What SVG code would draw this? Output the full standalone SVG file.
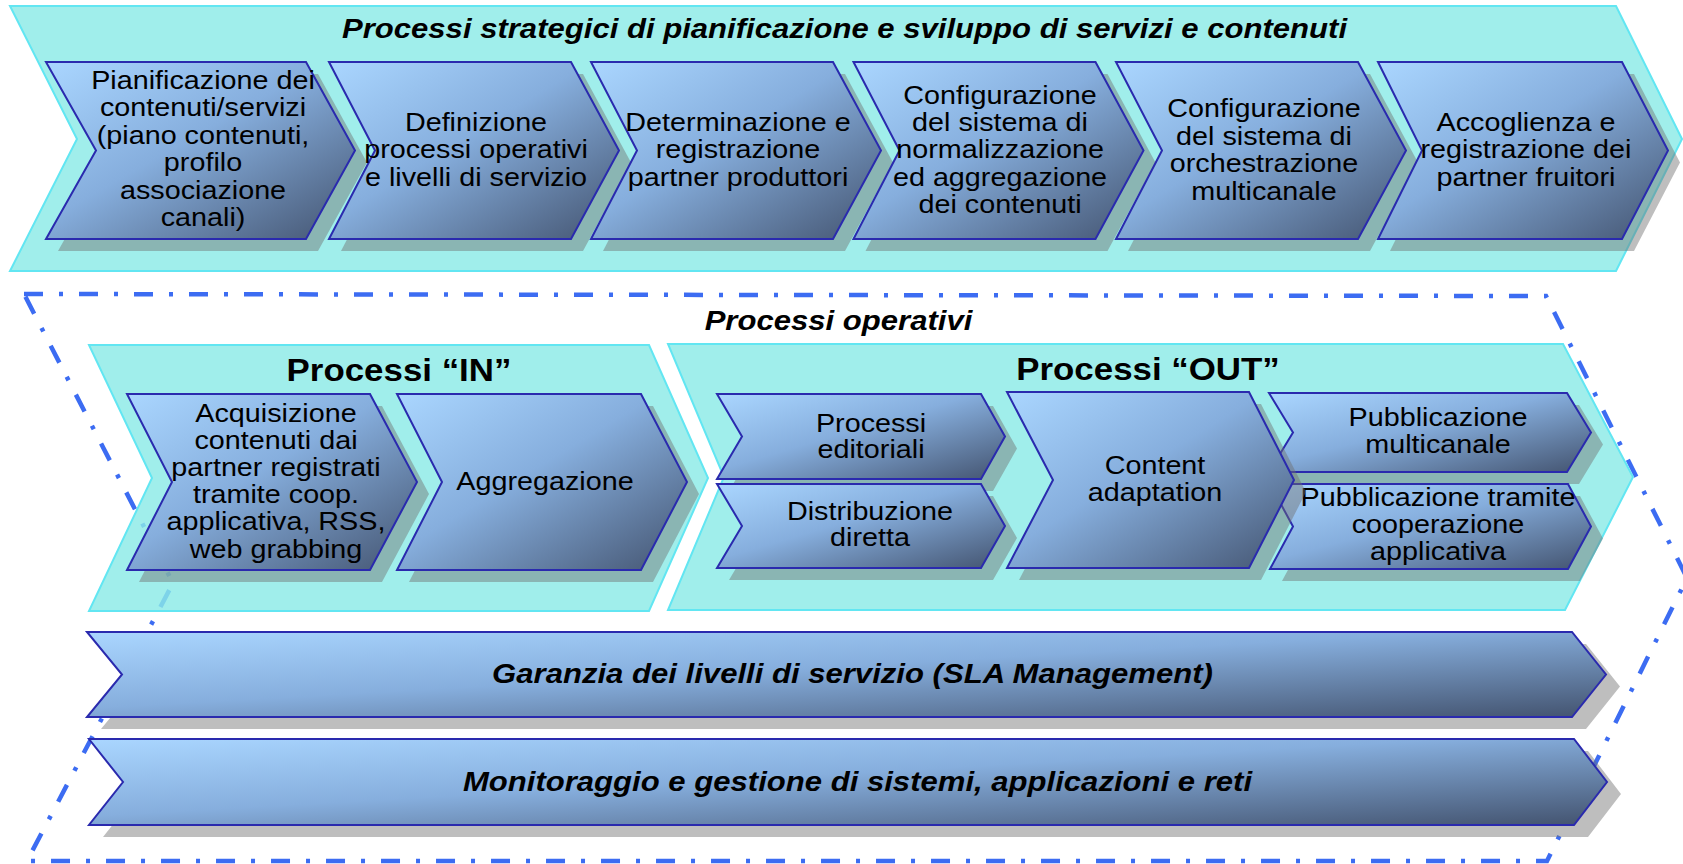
<svg xmlns="http://www.w3.org/2000/svg" width="1683" height="864" viewBox="0 0 1683 864">
<defs>
<linearGradient id="gc" x1="0" y1="0" x2="1" y2="1">
<stop offset="0" stop-color="#AAD6FF"/>
<stop offset="0.45" stop-color="#86AEDD"/>
<stop offset="1" stop-color="#43536F"/>
</linearGradient>
<style>
.band{fill:#8BEAE6;fill-opacity:0.82;stroke:#62E6F2;stroke-width:2}
.ch{fill:url(#gc);stroke:#2A2AAE;stroke-width:2}
.sh{fill:#6E6E6E;fill-opacity:0.45}
.t{font-family:"Liberation Sans",Arial,sans-serif;font-size:25px;fill:#000;text-anchor:middle}
.h{font-family:"Liberation Sans",Arial,sans-serif;font-size:28px;font-weight:bold;font-style:italic;fill:#000;text-anchor:middle}
.b{font-family:"Liberation Sans",Arial,sans-serif;font-size:32px;font-weight:bold;fill:#000;text-anchor:middle}
.dash{fill:none;stroke:#3C6CF2;stroke-width:4.5;stroke-dasharray:19 16 4 16}
</style>
</defs>
<rect width="1683" height="864" fill="#FFFFFF"/>

<g id="strategic-band">
<polygon class="band" points="10,6 1616,6 1682,139 1616,271 10,271 77,139"/>
<text class="h" transform="translate(844.5 0) scale(1.11 1)" x="0" y="38.5">Processi strategici di pianificazione e sviluppo di servizi e contenuti</text>
</g>

<g id="connectors">
<polygon id="operative-boundary" class="dash" points="24,294 1546,296 1687,578 1547,861 27,861 173,583"/>
</g>

<g id="ch1">
<polygon class="sh" transform="translate(12 12)" points="46,62 306,62 355,150.5 306,239 46,239 96,150.5"/>
<polygon class="ch" points="46,62 306,62 355,150.5 306,239 46,239 96,150.5"/>
<text class="t" transform="translate(203 0) scale(1.15 1)"><tspan x="0" y="89">Pianificazione dei</tspan><tspan x="0" y="116.5">contenuti/servizi</tspan><tspan x="0" y="144">(piano contenuti,</tspan><tspan x="0" y="171.5">profilo</tspan><tspan x="0" y="199">associazione</tspan><tspan x="0" y="226.5">canali)</tspan></text>
</g>
<g id="ch2">
<polygon class="sh" transform="translate(12 12)" points="329,62 571,62 619,150.5 571,239 329,239 375,150.5"/>
<polygon class="ch" points="329,62 571,62 619,150.5 571,239 329,239 375,150.5"/>
<text class="t" transform="translate(476 0) scale(1.15 1)"><tspan x="0" y="131">Definizione</tspan><tspan x="0" y="158.5">processi operativi</tspan><tspan x="0" y="186">e livelli di servizio</tspan></text>
</g>
<g id="ch3">
<polygon class="sh" transform="translate(12 12)" points="591,62 833,62 881,150.5 833,239 591,239 637,150.5"/>
<polygon class="ch" points="591,62 833,62 881,150.5 833,239 591,239 637,150.5"/>
<text class="t" transform="translate(738 0) scale(1.15 1)"><tspan x="0" y="131">Determinazione e</tspan><tspan x="0" y="158.5">registrazione</tspan><tspan x="0" y="186">partner produttori</tspan></text>
</g>
<g id="ch4">
<polygon class="sh" transform="translate(12 12)" points="853.5,62 1095.5,62 1143.5,150.5 1095.5,239 853.5,239 899.5,150.5"/>
<polygon class="ch" points="853.5,62 1095.5,62 1143.5,150.5 1095.5,239 853.5,239 899.5,150.5"/>
<text class="t" transform="translate(1000 0) scale(1.15 1)"><tspan x="0" y="104">Configurazione</tspan><tspan x="0" y="131">del sistema di</tspan><tspan x="0" y="158.5">normalizzazione</tspan><tspan x="0" y="186">ed aggregazione</tspan><tspan x="0" y="213.5">dei contenuti</tspan></text>
</g>
<g id="ch5">
<polygon class="sh" transform="translate(12 12)" points="1116,62 1358,62 1406,150.5 1358,239 1116,239 1162,150.5"/>
<polygon class="ch" points="1116,62 1358,62 1406,150.5 1358,239 1116,239 1162,150.5"/>
<text class="t" transform="translate(1264 0) scale(1.15 1)"><tspan x="0" y="117.5">Configurazione</tspan><tspan x="0" y="145">del sistema di</tspan><tspan x="0" y="172.5">orchestrazione</tspan><tspan x="0" y="200">multicanale</tspan></text>
</g>
<g id="ch6">
<polygon class="sh" transform="translate(12 12)" points="1378,62 1622,62 1668,150.5 1622,239 1378,239 1422,150.5"/>
<polygon class="ch" points="1378,62 1622,62 1668,150.5 1622,239 1378,239 1422,150.5"/>
<text class="t" transform="translate(1526 0) scale(1.15 1)"><tspan x="0" y="131">Accoglienza e</tspan><tspan x="0" y="158.5">registrazione dei</tspan><tspan x="0" y="186">partner fruitori</tspan></text>
</g>

<g id="operativi-label">
<text class="h" transform="translate(838.5 0) scale(1.11 1)" x="0" y="330">Processi operativi</text>
</g>

<g id="processi-in">
<polygon class="band" points="89,345 649,345 708,478 649,611 89,611 152,478"/>
<text class="b" transform="translate(399 0) scale(1.09 1)" x="0" y="381">Processi “IN”</text>
</g>
<g id="processi-out">
<polygon class="band" points="668,344 1563,344 1633,477 1565,610 668,610 724,477"/>
<text class="b" transform="translate(1148 0) scale(1.09 1)" x="0" y="380">Processi “OUT”</text>
</g>

<g id="acquisizione">
<polygon class="sh" transform="translate(12 12)" points="127,394 370,394 417,482 370,570 127,570 172,482"/>
<polygon class="ch" points="127,394 370,394 417,482 370,570 127,570 172,482"/>
<text class="t" transform="translate(276 0) scale(1.15 1)"><tspan x="0" y="422">Acquisizione</tspan><tspan x="0" y="449">contenuti dai</tspan><tspan x="0" y="476">partner registrati</tspan><tspan x="0" y="503">tramite coop.</tspan><tspan x="0" y="530.5">applicativa, RSS,</tspan><tspan x="0" y="558">web grabbing</tspan></text>
</g>
<g id="aggregazione">
<polygon class="sh" transform="translate(12 12)" points="397,394 641,394 687,482 641,570 397,570 442,482"/>
<polygon class="ch" points="397,394 641,394 687,482 641,570 397,570 442,482"/>
<text class="t" transform="translate(545 0) scale(1.15 1)" x="0" y="490">Aggregazione</text>
</g>

<g id="editoriali">
<polygon class="sh" transform="translate(12 12)" points="717,394 981,394 1005,436.5 981,479 717,479 742,436.5"/>
<polygon class="ch" points="717,394 981,394 1005,436.5 981,479 717,479 742,436.5"/>
<text class="t" transform="translate(871 0) scale(1.15 1)"><tspan x="0" y="432">Processi</tspan><tspan x="0" y="458.5">editoriali</tspan></text>
</g>
<g id="distribuzione">
<polygon class="sh" transform="translate(12 12)" points="717,484 981,484 1005,526 981,568 717,568 742,526"/>
<polygon class="ch" points="717,484 981,484 1005,526 981,568 717,568 742,526"/>
<text class="t" transform="translate(870 0) scale(1.15 1)"><tspan x="0" y="520">Distribuzione</tspan><tspan x="0" y="546.5">diretta</tspan></text>
</g>
<g id="pub-multicanale">
<polygon class="sh" transform="translate(12 12)" points="1269,393 1567,393 1591,432.5 1567,472 1269,472 1293,432.5"/>
<polygon class="ch" points="1269,393 1567,393 1591,432.5 1567,472 1269,472 1293,432.5"/>
<text class="t" transform="translate(1438 0) scale(1.15 1)"><tspan x="0" y="426.5">Pubblicazione</tspan><tspan x="0" y="453">multicanale</tspan></text>
</g>
<g id="pub-cooperazione">
<polygon class="sh" transform="translate(12 12)" points="1270,484 1568,484 1591,526.5 1568,569 1270,569 1293,526.5"/>
<polygon class="ch" points="1270,484 1568,484 1591,526.5 1568,569 1270,569 1293,526.5"/>
<text class="t" transform="translate(1438 0) scale(1.15 1)"><tspan x="0" y="506.5">Pubblicazione tramite</tspan><tspan x="0" y="533">cooperazione</tspan><tspan x="0" y="560">applicativa</tspan></text>
</g>
<g id="content-adaptation">
<polygon class="sh" transform="translate(12 12)" points="1007,392 1249,392 1294,480 1249,568 1007,568 1053,480"/>
<polygon class="ch" points="1007,392 1249,392 1294,480 1249,568 1007,568 1053,480"/>
<text class="t" transform="translate(1155 0) scale(1.15 1)"><tspan x="0" y="474">Content</tspan><tspan x="0" y="501">adaptation</tspan></text>
</g>

<g id="sla">
<polygon class="sh" transform="translate(14 12)" points="87,632 1572,632 1606,674.5 1572,717 87,717 122,674.5"/>
<polygon class="ch" points="87,632 1572,632 1606,674.5 1572,717 87,717 122,674.5"/>
<text class="h" transform="translate(852.5 0) scale(1.11 1)" x="0" y="683">Garanzia dei livelli di servizio (SLA Management)</text>
</g>
<g id="monitoraggio">
<polygon class="sh" transform="translate(14 12)" points="89,739 1574,739 1607,782 1574,825 89,825 123,782"/>
<polygon class="ch" points="89,739 1574,739 1607,782 1574,825 89,825 123,782"/>
<text class="h" transform="translate(857.5 0) scale(1.11 1)" x="0" y="791">Monitoraggio e gestione di sistemi, applicazioni e reti</text>
</g>
</svg>
